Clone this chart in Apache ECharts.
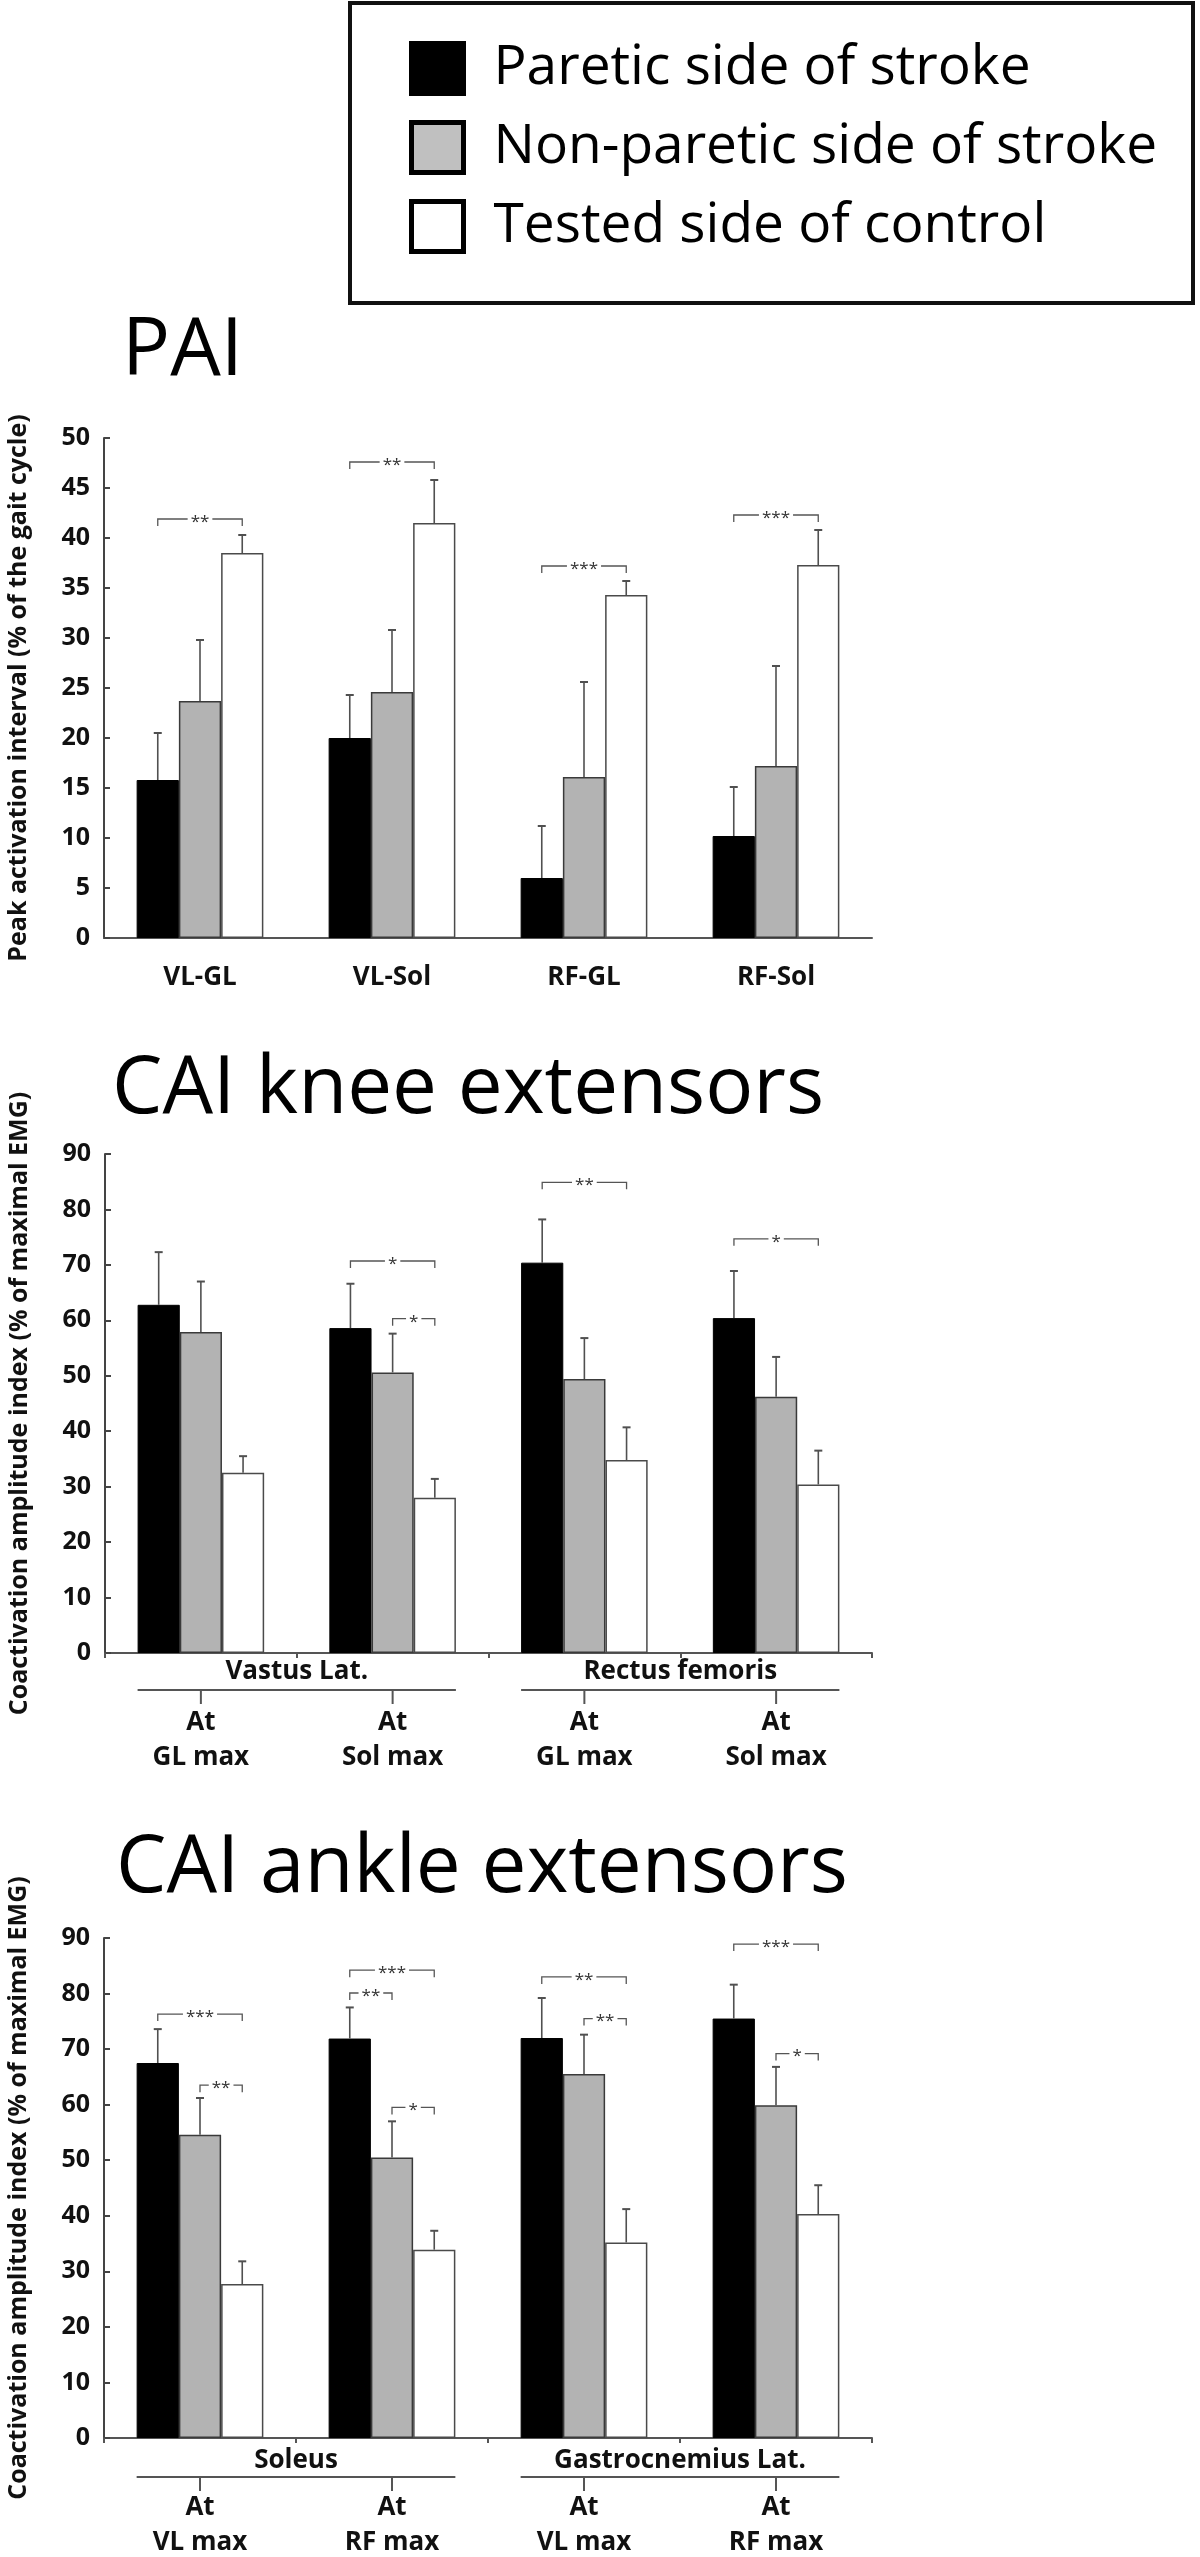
<!DOCTYPE html>
<html><head><meta charset="utf-8">
<script src="https://cdn.jsdelivr.net/npm/echarts@6/dist/echarts.min.js"></script>
<style>html,body{margin:0;padding:0;background:#fff}#c{width:1200px;height:2557px}</style>
</head><body><div id="c"></div>
<script>
// ---------------- DATA ----------------
const seriesNames = ['Paretic side of stroke', 'Non-paretic side of stroke', 'Tested side of control'];

// PAI
const paiCategories = ['VL-GL', 'VL-Sol', 'RF-GL', 'RF-Sol'];
const paiYTicks = [0, 5, 10, 15, 20, 25, 30, 35, 40, 45, 50];
const paiParetic = [15.8, 20.0, 6.0, 10.2];
const paiNonParetic = [23.7, 24.6, 16.1, 17.2];
const paiControl = [38.5, 41.5, 34.3, 37.3];
const paiPareticUpper = [20.5, 24.3, 11.2, 15.1];
const paiNonPareticUpper = [29.8, 30.8, 25.6, 27.2];
const paiControlUpper = [40.3, 45.8, 35.7, 40.8];
// brackets: [category, fromBar, toBar, level]
const paiBrackets = [[0, 0, 2, 41.9], [1, 0, 2, 47.6], [2, 0, 2, 37.2], [3, 0, 2, 42.3]];
const paiBracketLabels = ['**', '**', '***', '***'];

// CAI knee extensors
const kneeCategories = ['At\nGL max', 'At\nSol max', 'At\nGL max', 'At\nSol max'];
const kneeGroups = ['Vastus Lat.', 'Rectus femoris'];
const kneeYTicks = [0, 10, 20, 30, 40, 50, 60, 70, 80, 90];
const kneeParetic = [62.8, 58.6, 70.4, 60.4];
const kneeNonParetic = [57.9, 50.6, 49.4, 46.2];
const kneeControl = [32.5, 28.0, 34.8, 30.4];
const kneePareticUpper = [72.3, 66.6, 78.2, 68.9];
const kneeNonPareticUpper = [67.0, 57.6, 56.8, 53.4];
const kneeControlUpper = [35.5, 31.4, 40.7, 36.5];
const kneeBrackets = [[1, 0, 2, 70.7], [1, 1, 2, 60.3], [2, 0, 2, 84.9], [3, 0, 2, 74.7]];
const kneeBracketLabels = ['*', '*', '**', '*'];

// CAI ankle extensors
const ankleCategories = ['At\nVL max', 'At\nRF max', 'At\nVL max', 'At\nRF max'];
const ankleGroups = ['Soleus', 'Gastrocnemius Lat.'];
const ankleYTicks = [0, 10, 20, 30, 40, 50, 60, 70, 80, 90];
const ankleParetic = [67.5, 71.9, 72.0, 75.5];
const ankleNonParetic = [54.6, 50.5, 65.5, 59.9];
const ankleControl = [27.7, 33.9, 35.2, 40.3];
const anklePareticUpper = [73.6, 77.5, 79.2, 81.6];
const ankleNonPareticUpper = [61.2, 57.0, 72.6, 66.8];
const ankleControlUpper = [31.8, 37.3, 41.2, 45.5];
const ankleBrackets = [[0, 0, 2, 76.3], [0, 1, 2, 63.5], [1, 0, 2, 84.2], [1, 0, 1, 80.1], [1, 1, 2, 59.5],
                       [2, 0, 2, 83.0], [2, 1, 2, 75.5], [3, 0, 2, 88.9], [3, 1, 2, 69.2]];
const ankleBracketLabels = ['***', '**', '***', '**', '*', '**', '**', '***', '*'];

// ---------------- STYLE / LAYOUT ----------------
const FONT = '"Open Sans", "Noto Sans", sans-serif';
const GAP = 0.34;
const barStyles = [
  {color: '#000000', borderColor: '#000000', borderWidth: 1},
  {color: '#b3b3b3', borderColor: '#3a3a3a', borderWidth: 1.5},
  {color: '#ffffff', borderColor: '#4a4a4a', borderWidth: 1.5}
];

const panels = [
  {
    title: 'PAI', titleX: 122, titleY: 352,
    cats: paiCategories, groups: null, ticks: paiYTicks,
    vals: [paiParetic, paiNonParetic, paiControl],
    ups: [paiPareticUpper, paiNonPareticUpper, paiControlUpper],
    br: paiBrackets, brl: paiBracketLabels,
    yName: 'Peak activation interval (% of the gait cycle)',
    grid: {left: 104, top: 438, width: 768, height: 500},
    xTicks: false, labelMargin: 25, lineHeight: 30
  },
  {
    title: 'CAI knee extensors', titleX: 112, titleY: 1090,
    cats: kneeCategories, groups: kneeGroups, ticks: kneeYTicks,
    vals: [kneeParetic, kneeNonParetic, kneeControl],
    ups: [kneePareticUpper, kneeNonPareticUpper, kneeControlUpper],
    br: kneeBrackets, brl: kneeBracketLabels,
    yName: 'Coactivation amplitude index (% of maximal EMG)',
    grid: {left: 105, top: 1154, width: 767, height: 499},
    xTicks: true, labelMargin: 52, lineHeight: 35, groupLabelY: 19, groupLineY: 37
  },
  {
    title: 'CAI ankle extensors', titleX: 116, titleY: 1869,
    cats: ankleCategories, groups: ankleGroups, ticks: ankleYTicks,
    vals: [ankleParetic, ankleNonParetic, ankleControl],
    ups: [anklePareticUpper, ankleNonPareticUpper, ankleControlUpper],
    br: ankleBrackets, brl: ankleBracketLabels,
    yName: 'Coactivation amplitude index (% of maximal EMG)',
    grid: {left: 104, top: 1938, width: 768, height: 500},
    xTicks: true, labelMargin: 52, lineHeight: 35, groupLabelY: 23, groupLineY: 39
  }
];

// ---------------- RENDERERS ----------------
function errorRender(params, api) {
  const c = api.value(0), s = api.value(1);
  const top = api.coord([c, api.value(2)]);
  const up = api.coord([c, api.value(3)]);
  const bw = api.size([1, 0])[0] * (1 - GAP) / 3;
  const x = top[0] + (s - 1) * bw;
  const st = {stroke: '#505050', lineWidth: 1.6};
  return {type: 'group', children: [
    {type: 'line', shape: {x1: x, y1: top[1], x2: x, y2: up[1]}, style: st},
    {type: 'line', shape: {x1: x - 4, y1: up[1], x2: x + 4, y2: up[1]}, style: {stroke: '#505050', lineWidth: 2}}
  ]};
}
function bracketRender(labels) {
  return function (params, api) {
    const c = api.value(0), i0 = api.value(1), i1 = api.value(2), lvl = api.value(3);
    const p = api.coord([c, lvl]);
    const bw = api.size([1, 0])[0] * (1 - GAP) / 3;
    const xa = p[0] + (i0 - 1) * bw, xb = p[0] + (i1 - 1) * bw, y = p[1];
    return {type: 'group', children: [
      {type: 'polyline', shape: {points: [[xa, y + 7], [xa, y], [xb, y], [xb, y + 7]]},
       style: {stroke: '#555', lineWidth: 1.3, fill: 'none'}},
      {type: 'text', style: {text: labels[params.dataIndex], x: (xa + xb) / 2, y: y + 3,
        align: 'center', verticalAlign: 'middle', font: '17px ' + FONT, fill: '#333',
        backgroundColor: '#fff', padding: [0, 3]}}
    ]};
  };
}
function groupRender(names, labY, lineY) {
  return function (params, api) {
    const c0 = api.value(0), c1 = api.value(1);
    const p0 = api.coord([c0, 0]), p1 = api.coord([c1, 0]);
    const half = api.size([1, 0])[0] * (1 - GAP) / 2;
    const y0 = p0[1];
    const st = {stroke: '#555', lineWidth: 2};
    return {type: 'group', children: [
      {type: 'text', style: {text: names[params.dataIndex], x: (p0[0] + p1[0]) / 2, y: y0 + labY,
        align: 'center', verticalAlign: 'middle', font: 'bold 26px ' + FONT, fill: '#111'}},
      {type: 'line', shape: {x1: p0[0] - half, y1: y0 + lineY, x2: p1[0] + half, y2: y0 + lineY}, style: st},
      {type: 'line', shape: {x1: p0[0], y1: y0 + lineY, x2: p0[0], y2: y0 + lineY + 14}, style: st},
      {type: 'line', shape: {x1: p1[0], y1: y0 + lineY, x2: p1[0], y2: y0 + lineY + 14}, style: st}
    ]};
  };
}

// ---------------- OPTION ----------------
const grids = [], xAxes = [], yAxes = [], series = [], graphics = [];
panels.forEach((p, i) => {
  grids.push(Object.assign({containLabel: false, outerBoundsMode: 'none'}, p.grid));
  xAxes.push({
    type: 'category', gridIndex: i, data: p.cats,
    axisLine: {show: true, lineStyle: {color: '#555', width: 2}},
    axisTick: {show: p.xTicks, length: 5, inside: false, interval: 0, alignWithLabel: false,
               lineStyle: {color: '#555', width: 2}},
    axisLabel: {interval: 0, margin: p.labelMargin, fontSize: 26, fontWeight: 'bold', fontFamily: FONT,
                color: '#111', lineHeight: p.lineHeight},
    splitLine: {show: false}
  });
  const t = p.ticks;
  yAxes.push({
    type: 'value', gridIndex: i, min: t[0], max: t[t.length - 1], interval: t[1] - t[0],
    axisLine: {show: true, lineStyle: {color: '#444', width: 2}},
    axisTick: {show: true, inside: true, length: 6, lineStyle: {color: '#444', width: 2}},
    axisLabel: {margin: 14, fontSize: 25, fontWeight: 'bold', fontFamily: FONT, color: '#111'},
    splitLine: {show: false},
    name: p.yName, nameLocation: 'middle', nameGap: 73, nameRotate: 90,
    nameTextStyle: {fontSize: 25, fontWeight: 'bold', fontFamily: FONT, color: '#111'}
  });
  p.vals.forEach((v, s) => {
    series.push({
      type: 'bar', name: seriesNames[s], xAxisIndex: i, yAxisIndex: i, data: v,
      barGap: '0%', barCategoryGap: (GAP * 100) + '%', itemStyle: barStyles[s], z: 2, silent: true
    });
  });
  const errData = [];
  p.vals.forEach((v, s) => v.forEach((val, c) => errData.push([c, s, val, p.ups[s][c]])));
  series.push({type: 'custom', xAxisIndex: i, yAxisIndex: i, data: errData, renderItem: errorRender,
               encode: {x: 0, y: 3}, z: 3, silent: true});
  series.push({type: 'custom', xAxisIndex: i, yAxisIndex: i, data: p.br, renderItem: bracketRender(p.brl),
               encode: {x: 0, y: 3}, z: 4, silent: true});
  if (p.groups) {
    series.push({type: 'custom', xAxisIndex: i, yAxisIndex: i, data: [[0, 1], [2, 3]],
                 renderItem: groupRender(p.groups, p.groupLabelY, p.groupLineY),
                 encode: {x: 0}, z: 4, silent: true, clip: false});
  }
  graphics.push({type: 'text', x: p.titleX, y: p.titleY, silent: true,
    style: {text: p.title, font: '80px ' + FONT, fill: '#000', verticalAlign: 'middle'}});
});
graphics.push({type: 'rect', shape: {x: 350, y: 3, width: 843, height: 300}, silent: true,
  style: {fill: 'none', stroke: '#111', lineWidth: 4}});

const option = {
  animation: false,
  backgroundColor: '#fff',
  legend: {
    orient: 'vertical', left: 409, top: 41, padding: 0,
    itemWidth: 52, itemHeight: 50, itemGap: 24, icon: 'rect', selectedMode: false,
    textStyle: {fontSize: 55, fontFamily: FONT, color: '#000', padding: [0, 0, 0, 25]},
    data: [
      {name: seriesNames[0], itemStyle: {color: '#000', borderColor: '#000', borderWidth: 5}},
      {name: seriesNames[1], itemStyle: {color: '#c0c0c0', borderColor: '#000', borderWidth: 5}},
      {name: seriesNames[2], itemStyle: {color: '#fff', borderColor: '#000', borderWidth: 5}}
    ]
  },
  grid: grids, xAxis: xAxes, yAxis: yAxes, series: series, graphic: graphics
};
const chart = echarts.init(document.getElementById('c'), null, {renderer: 'canvas', width: 1200, height: 2557});
chart.setOption(option);
</script></body></html>
